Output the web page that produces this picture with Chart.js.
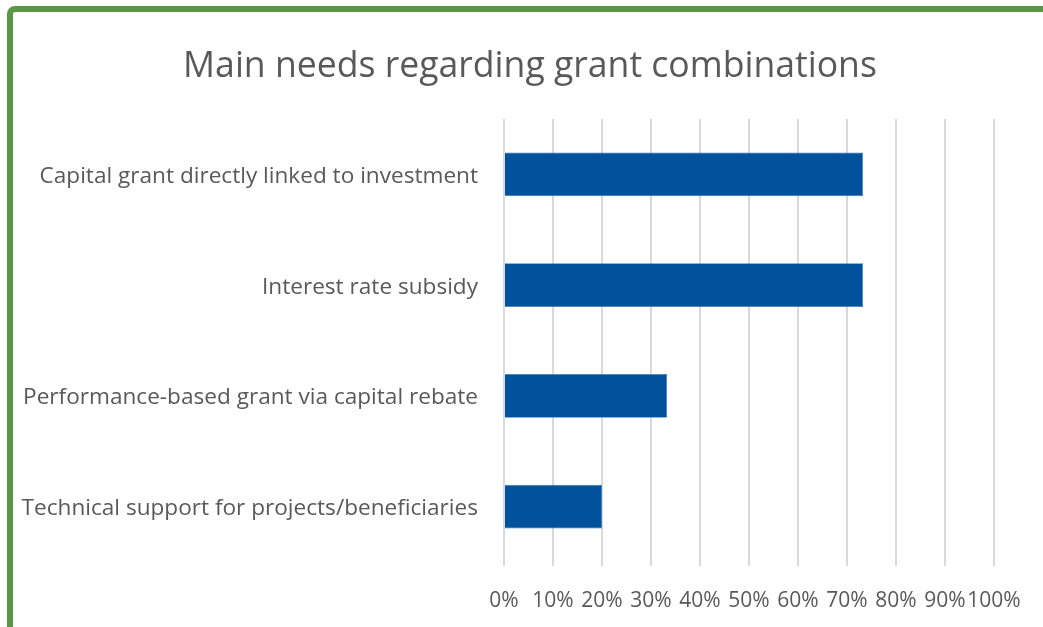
<!DOCTYPE html>
<html>
<head>
<meta charset="utf-8">
<script src="https://cdn.jsdelivr.net/npm/chart.js@4"></script>
<style>
    html, body {
        margin: 0;
        padding: 0;
        background: #ffffff;
        overflow: hidden;
    }
    #wrap {
        position: relative;
        width: 1043px;
        height: 627px;
    }
    #frame {
        position: absolute;
        left: 7px;
        top: 6px;
        width: 1100px;
        height: 700px;
        border: 6px solid #5b9645;
        border-radius: 8px;
        pointer-events: none;
    }
    canvas {
        position: absolute;
        left: 0;
        top: 0;
    }
</style>
</head>
<body>
<div id="wrap">
    <canvas id="Barras" width="1043" height="627"></canvas>
    <div id="frame"></div>
</div>
<script>
const categorias = [
    'Capital grant directly linked to investment',
    'Interest rate subsidy',
    'Performance-based grant via capital rebate',
    'Technical support for projects/beneficiaries',
];

const percentuais = [73.3, 73.3, 33.3, 20];

const ticksX = [0, 10, 20, 30, 40, 50, 60, 70, 80, 90, 100];

const titulo = 'Main needs regarding grant combinations';

const corTexto = '#595959';
const fonte = "'Open Sans', 'Noto Sans', sans-serif";

// titulo centrado no quadro, nao so na area do grafico
const pluginTitulo = {
    id: 'tituloQuadro',
    afterDraw(chart) {
        const ctx = chart.ctx;
        ctx.save();
        ctx.fillStyle = corTexto;
        ctx.font = 'normal 35.6px ' + fonte;
        ctx.textAlign = 'center';
        ctx.textBaseline = 'middle';
        ctx.fillText(titulo, 530, 67);
        ctx.restore();
    }
};

const dataBarras = {
    labels: categorias,
    datasets: [
        {
            label: 'Share',
            backgroundColor: '#00529c',
            borderColor: '#3b7cc0',
            borderWidth: 0.8,
            data: percentuais,
            categoryPercentage: 1,
            barPercentage: 0.396,
        }
    ]
};

const configBarras = {
    type: 'bar',
    data: dataBarras,
    plugins: [pluginTitulo],
    options: {
        indexAxis: 'y',
        responsive: false,
        animation: false,
        layout: {
            padding: { left: 0, right: 49, top: 119, bottom: 0 }
        },
        plugins: {
            legend: { display: false },
            tooltip: { enabled: false },
            title: { display: false }
        },
        scales: {
            x: {
                min: 0,
                max: 100,
                afterBuildTicks: (scale) => {
                    scale.ticks = ticksX.map(v => ({ value: v }));
                },
                afterFit: (scale) => {
                    scale.height = 65;
                },
                border: { display: false },
                grid: {
                    color: '#d9d9d9',
                    lineWidth: 2,
                    drawTicks: true,
                    tickLength: 4,
                },
                ticks: {
                    autoSkip: false,
                    maxRotation: 0,
                    minRotation: 0,
                    padding: 22,
                    color: corTexto,
                    font: { family: fonte, size: 21 },
                    callback: (v) => v + '%'
                }
            },
            y: {
                afterFit: (scale) => {
                    scale.width = 504;
                },
                border: { display: false },
                grid: { display: false, drawTicks: false },
                ticks: {
                    padding: 26,
                    labelOffset: 2,
                    color: corTexto,
                    font: { family: fonte, size: 22.6 }
                }
            }
        }
    }
};

const graficoBarras = new Chart(
    document.getElementById('Barras'),
    configBarras
);
</script>
</body>
</html>
